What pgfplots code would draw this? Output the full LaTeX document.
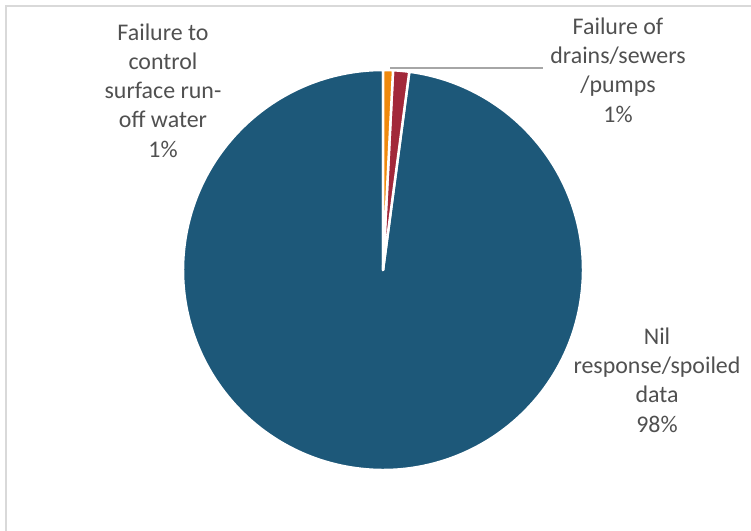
\documentclass[border=0pt]{standalone}
\usepackage{pgfplots}
\usepackage{pgfplotstable}
\pgfplotsset{compat=1.18}
\usepackage{fontspec}
\setmainfont{Carlito}
\definecolor{pieblue}{HTML}{1D5879}
\definecolor{pieorange}{HTML}{F0890C}
\definecolor{piered}{HTML}{A2283A}
\definecolor{labelgray}{HTML}{505050}
\definecolor{framegray}{HTML}{D9D9D9}
\definecolor{leadergray}{HTML}{A6A6A6}
\tikzset{lbl/.style={font=\fontsize{24}{29.3}\selectfont, text=labelgray, align=center, inner sep=0pt, anchor=base}}

\pgfplotstableread{
value
0.8
1.3
97.9
}\piedata
\pgfplotstablegetelem{0}{value}\of\piedata \let\va\pgfplotsretval
\pgfplotstablegetelem{1}{value}\of\piedata \let\vb\pgfplotsretval
\pgfplotstablegetelem{2}{value}\of\piedata \let\vc\pgfplotsretval
\pgfmathsetmacro\aA{90}
\pgfmathsetmacro\aB{\aA-3.6*\va}
\pgfmathsetmacro\aC{\aB-3.6*\vb}
\pgfmathsetmacro\aD{\aC-3.6*\vc}

\begin{document}%
\begin{tikzpicture}
\begin{axis}[
  scale only axis, width=751bp, height=531bp,
  xmin=0, xmax=751, ymin=0, ymax=531, y dir=reverse,
  hide axis, clip=false,
]
\draw[framegray, line width=2bp] (axis cs:6,531) -- (axis cs:6,6) -- (axis cs:751,6);
% slices
\fill[pieblue, draw=white, line width=2.5bp, line join=round] (axis cs:383,270) -- ++(\aC:200bp) arc[start angle=\aC, end angle=\aD, radius=200bp] -- cycle;
\fill[piered, draw=white, line width=2.5bp, line join=round] (axis cs:383,270) -- ++(\aB:200bp) arc[start angle=\aB, end angle=\aC, radius=200bp] -- cycle;
\fill[pieorange, draw=white, line width=2.5bp, line join=round] (axis cs:383,270) -- ++(\aA:200bp) arc[start angle=\aA, end angle=\aB, radius=200bp] -- cycle;
% leader line
\draw[leadergray, line width=1.5bp] (axis cs:390,68) -- (axis cs:543,68);
% labels
\node[lbl] at (axis cs:163,157) {Failure to\\control\\surface run-\\off water\\1\%};
\node[lbl] at (axis cs:618,122) {Failure of\\drains/sewers\\/pumps\\1\%};
\node[lbl] at (axis cs:657,432) {Nil\\response/spoiled\\data\\98\%};
\end{axis}
\pgfresetboundingbox
\path[use as bounding box] (current axis.south west) rectangle (current axis.north east);
\end{tikzpicture}%
\end{document}
